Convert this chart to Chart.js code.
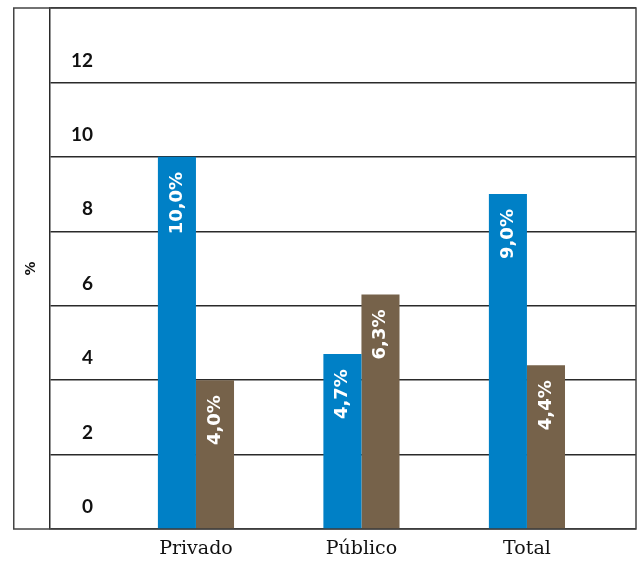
<!DOCTYPE html>
<html>
<head>
<meta charset="utf-8">
<script src="https://cdn.jsdelivr.net/npm/chart.js@4/dist/chart.umd.min.js"></script>
<style>
  html, body { margin: 0; padding: 0; background: #fff; }
  #wrap { width: 637px; height: 562px; }
</style>
</head>
<body>
<div id="wrap"><canvas id="c" width="637" height="562"></canvas></div>
<script>
// Sector categories and the two series (percent)
const categories = ['Privado', 'Público', 'Total'];
const seriesBlue = [10.0, 4.7, 9.0];
const seriesBrown = [4.0, 6.3, 4.4];
const yTickLabels = [0, 2, 4, 6, 8, 10, 12];
const yAxisTitle = '%';

const BLUE = '#0080C6';
const BROWN = '#76624A';
const LINE = '#2a2a2a';

const toPoints = vals => vals.map((v, i) => ({ x: i, y: v }));
const fmt = v => v.toFixed(1).replace('.', ',') + '%';

// White rotated value labels inside the top of each bar
const barValueLabels = {
  id: 'barValueLabels',
  afterDatasetsDraw(chart) {
    const ctx = chart.ctx;
    ctx.save();
    ctx.fillStyle = '#ffffff';
    ctx.font = 'bold 18px "DejaVu Sans"';
    ctx.textAlign = 'right';
    ctx.textBaseline = 'middle';
    chart.data.datasets.forEach((ds, di) => {
      chart.getDatasetMeta(di).data.forEach((bar, i) => {
        ctx.save();
        ctx.translate(bar.x, bar.y + 15);
        ctx.rotate(-Math.PI / 2);
        ctx.fillText(fmt(ds.data[i].y), 0, 0);
        ctx.restore();
      });
    });
    ctx.restore();
  }
};

// Outer frame around the axis-title column and plot area
const frame = {
  id: 'frame',
  beforeDatasetsDraw(chart) {
    const { ctx, chartArea: a } = chart;
    const y = chart.scales.y;
    ctx.save();
    ctx.strokeStyle = '#444';
    ctx.lineWidth = 1.5;
    ctx.strokeRect(y.left + 0.75, a.top, a.right - y.left - 0.75, a.bottom - a.top);
    ctx.restore();
  }
};

new Chart(document.getElementById('c'), {
  type: 'bar',
  data: {
    datasets: [
      { label: 'A', data: toPoints(seriesBlue), backgroundColor: BLUE, borderWidth: 0 },
      { label: 'B', data: toPoints(seriesBrown), backgroundColor: BROWN, borderWidth: 0 }
    ]
  },
  options: {
    responsive: false,
    animation: false,
    devicePixelRatio: 1,
    layout: { padding: { left: 13, right: 1, top: 8, bottom: 0 } },
    categoryPercentage: 0.46,
    barPercentage: 1,
    plugins: { legend: { display: false }, tooltip: { enabled: false } },
    scales: {
      x: {
        type: 'linear',
        offset: false,
        min: -0.882,
        max: 2.659,
        afterBuildTicks: s => { s.ticks = categories.map((c, i) => ({ value: i })); },
        afterFit: s => { s.height = 33; s.paddingLeft = 0; s.paddingRight = 0; },
        ticks: {
          callback: v => categories[v],
          autoSkip: false,
          maxRotation: 0,
          padding: 9,
          color: '#111',
          font: { family: '"DejaVu Serif"', size: 19 }
        },
        grid: { display: false, drawTicks: false, offset: false },
        border: { display: false }
      },
      y: {
        min: 0,
        max: 14,
        afterBuildTicks: s => {
          const vals = yTickLabels.concat([14]);
          s.ticks = vals.map(v => ({ value: v }));
        },
        afterFit: s => { s.width = 37; s.paddingTop = 0; s.paddingBottom = 0; },
        ticks: {
          callback: v => (yTickLabels.includes(v) ? String(v) : ''),
          mirror: true,
          crossAlign: 'far',
          padding: 21,
          labelOffset: -22,
          color: '#111',
          font: { family: 'Lato', weight: 'bold', size: 19 }
        },
        grid: { color: LINE, lineWidth: 1.5, drawTicks: false },
        border: { display: true, color: LINE, width: 1.5 },
        title: {
          display: true,
          text: yAxisTitle,
          color: '#111',
          font: { family: '"DejaVu Sans"', weight: 'bold', size: 14 },
          padding: { top: 10, bottom: 0 }
        }
      }
    }
  },
  plugins: [frame, barValueLabels]
});
</script>
</body>
</html>
